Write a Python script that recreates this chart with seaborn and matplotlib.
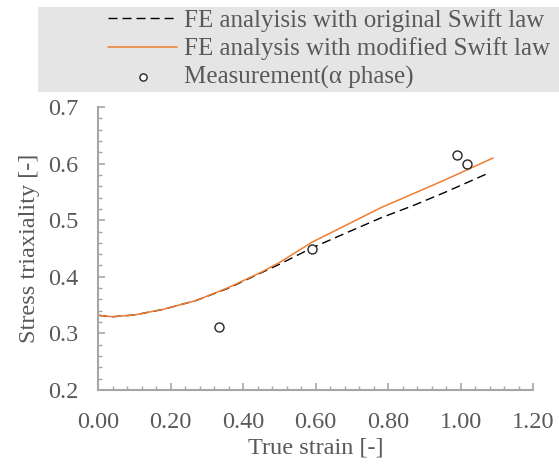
import matplotlib
matplotlib.use("Agg")
import matplotlib.pyplot as plt
import seaborn as sns
import pandas as pd
from matplotlib.patches import Rectangle
from matplotlib.ticker import MultipleLocator, FormatStrFormatter

# ---- data ----
strain_orig = [0.0, 0.04, 0.10, 0.18, 0.27, 0.36, 0.45, 0.50, 0.59, 0.69, 0.78, 0.87, 0.96, 1.08]
triax_orig = [0.332, 0.3295, 0.3325, 0.3425, 0.358, 0.380, 0.407, 0.422, 0.451, 0.479, 0.504, 0.526, 0.550, 0.584]

strain_mod = [0.0, 0.04, 0.10, 0.18, 0.27, 0.36, 0.45, 0.50, 0.55, 0.59, 0.69, 0.78, 0.87, 0.96, 1.09]
triax_mod = [0.332, 0.3295, 0.3325, 0.3425, 0.358, 0.381, 0.408, 0.425, 0.445, 0.461, 0.493, 0.522, 0.547, 0.572, 0.610]

meas_strain = [0.335, 0.591, 0.989, 1.019]
meas_triax = [0.312, 0.449, 0.616, 0.600]

labels = ["FE analyisis with original Swift law",
          "FE analysis with modified Swift law",
          "Measurement(\u03b1 phase)"]
x_label = "True strain [-]"
y_label = "Stress triaxiality [-]"

sns.set_style("white")
plt.rcParams['font.family'] = ['Liberation Serif', 'DejaVu Serif']
TXT = "#595959"
SPINE = "#a6a6a6"
FS = 17.5

W, H = 559, 470
fig = plt.figure(figsize=(W / 100, H / 100), dpi=100)
ax = fig.add_axes([98 / W, 1 - 390 / H, (533 - 98) / W, (390 - 107) / H])

df_o = pd.DataFrame({"x": strain_orig, "y": triax_orig})
df_m = pd.DataFrame({"x": strain_mod, "y": triax_mod})
df_p = pd.DataFrame({"x": meas_strain, "y": meas_triax})

sns.lineplot(data=df_o, x="x", y="y", ax=ax, color="black", linewidth=1.0,
             sort=False, label=labels[0])
ax.lines[-1].set_dashes((6.5, 3.6))
sns.lineplot(data=df_m, x="x", y="y", ax=ax, color="#ED7D31", linewidth=1.1,
             sort=False, label=labels[1])
sns.scatterplot(data=df_p, x="x", y="y", ax=ax, marker="o", s=42,
                facecolor="white", edgecolor="#262626", linewidth=1.0,
                label=labels[2], zorder=5)

ax.set_xlim(0, 1.2)
ax.set_ylim(0.2, 0.7)
ax.xaxis.set_major_locator(MultipleLocator(0.2))
ax.xaxis.set_minor_locator(MultipleLocator(0.04))
ax.yaxis.set_major_locator(MultipleLocator(0.1))
ax.yaxis.set_minor_locator(MultipleLocator(0.02))
ax.xaxis.set_major_formatter(FormatStrFormatter("%.2f"))
ax.yaxis.set_major_formatter(FormatStrFormatter("%.1f"))

for s in ["top", "right"]:
    ax.spines[s].set_visible(False)
for s in ["left", "bottom"]:
    ax.spines[s].set_color(SPINE)
    ax.spines[s].set_linewidth(1.5)

ax.tick_params(axis="both", which="both", bottom=True, left=True,
               top=False, right=False, direction="in", color=SPINE)
ax.tick_params(axis="both", which="major", length=5, width=1.2,
               labelsize=FS, labelcolor=TXT)
ax.tick_params(axis="both", which="minor", length=3, width=1.0)
ax.tick_params(axis="x", which="major", pad=16)
ax.tick_params(axis="y", which="major", pad=14)

ax.set_xlabel(x_label, fontsize=FS, color=TXT, labelpad=3)
ax.set_ylabel(y_label, fontsize=FS, color=TXT, labelpad=6)

handles, lbls = ax.get_legend_handles_labels()
ax.get_legend().remove()

fig.patches.append(Rectangle((38 / W, 1 - 92 / H), (W - 38) / W, (92 - 7) / H,
                             transform=fig.transFigure, facecolor="#e5e5e5",
                             edgecolor="none", zorder=0))
leg = fig.legend(handles, lbls, loc="upper left",
                 bbox_to_anchor=(108 / W, 1 - 9 / H),
                 frameon=False, fontsize=18, handlelength=2.76,
                 handletextpad=0.28, labelspacing=0.22, borderpad=0.0,
                 borderaxespad=0.0, labelcolor=TXT, markerscale=0.8)

fig.savefig("out.png", dpi=100)
